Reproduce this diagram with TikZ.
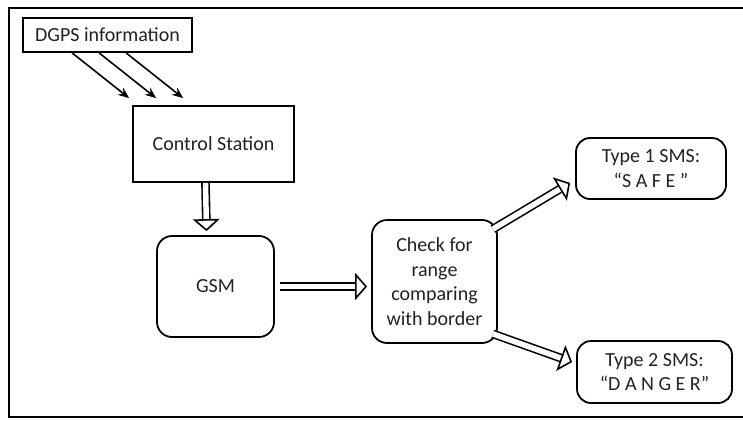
\documentclass[tikz,border=0pt]{standalone}
\usepackage{fontspec}
\setmainfont{Carlito}
\usetikzlibrary{arrows.meta}
\definecolor{txt}{HTML}{222222}

\tikzset{
  box/.style={draw, line width=1.8pt, inner sep=0pt, align=center, text=txt,
    font=\fontsize{20}{24.5}\selectfont},
  rbox/.style={box, rounded corners=15pt},
  thin arrow/.style={line width=1.6pt, -{Stealth[length=11pt, width=9pt]}},
  hollow/.style={double, double distance=5.5pt, line width=1.6pt,
    -{Triangle[open, fill=white, length=12pt, width=27pt, line width=1.6pt]}}
}

\begin{document}
\begin{tikzpicture}[x=1pt, y=-1pt]
  \useasboundingbox (0,0) rectangle (743,420);
  \draw[line width=2.2pt] (760,8) -| (9,417) -- (760,417);

  \node[box, minimum width=169pt, minimum height=34pt] (dgps) at (107.5,35) {DGPS information};
  \node[box, minimum width=161pt, minimum height=76pt] (ctrl) at (213.5,144) {Control Station};
  \node[rbox, minimum width=117pt, minimum height=101pt] (gsm) at (215.5,286.5) {GSM};
  \node[rbox, minimum width=125pt, minimum height=123pt] (check) at (434.5,281.5)
    {Check for\\range\\comparing\\with border};
  \node[rbox, rounded corners=14pt, minimum width=150pt, minimum height=61pt] (safe) at (651,168.5)
    {Type 1 SMS:\\“S A F E ”};
  \node[rbox, rounded corners=14pt, minimum width=155pt, minimum height=62pt] (danger) at (654.5,372)
    {Type 2 SMS:\\“D A N G E R”};

  \foreach \dx in {0,27,54}
    \draw[thin arrow] ([xshift=50pt+\dx pt]dgps.south west) -- ([xshift=-3pt+\dx pt, yshift=7pt]ctrl.north west);

  \draw[hollow] ([xshift=-8pt]ctrl.south) -- ([xshift=-9pt, yshift=4pt]gsm.north);
  \draw[hollow] ([xshift=5pt]gsm.east) -- ([xshift=-4pt]gsm.east -| check.west);
  \draw[hollow] ([xshift=-5pt, yshift=-10pt]check.north east) -- ([xshift=-5pt, yshift=17pt]safe.south west);
  \draw[hollow] ([xshift=-5pt, yshift=10pt]check.south east) -- ([xshift=-4pt, yshift=-22pt]danger.north west);
\end{tikzpicture}
\end{document}
